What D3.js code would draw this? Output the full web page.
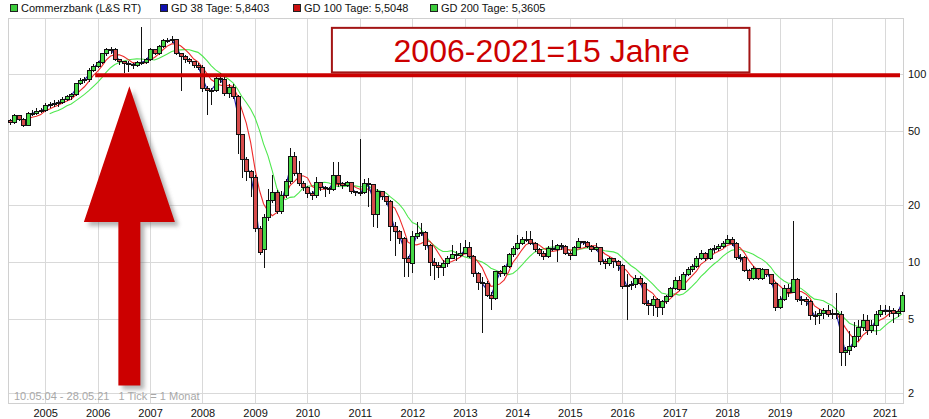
<!DOCTYPE html>
<html><head><meta charset="utf-8">
<script src="https://cdn.jsdelivr.net/npm/d3@7"></script>
<style>
html,body{margin:0;padding:0;background:#fff;}
svg{display:block;font-family:"Liberation Sans",Arial,sans-serif;}
</style></head><body>
<svg id="chart" width="929" height="419"></svg>
<script>
// ---------- DATA (monthly candles, May 2004 .. May 2021) ----------
const firstMonth = {year: 2004, month: 4}; // May 2004 (0-based month)
const opens = [56.5,55.5,59.8,57.6,53.5,61.6,62.0,63.3,63.8,67.6,69.2,70.0,70.5,73.6,75.5,77.4,89.0,92.4,93.5,105.0,
110.3,115.8,127.8,134.2,135.0,119.4,116.5,114.4,113.0,111.6,
115.8,115.0,119.4,134.2,127.8,140.9,150.8,150.0,153.5,128.5,
124.0,119.4,117.0,111.6,108.2,84.0,82.0,81.5,95.0,94.0,
79.2,85.2,76.0,47.4,35.2,30.2,28.3,15.0,11.6,17.3,
21.2,23.3,18.5,22.7,26.8,36.3,29.6,26.1,25.0,23.2,
22.5,26.4,25.0,24.7,24.3,29.0,26.0,25.4,26.4,23.6,
23.3,23.3,26.0,25.7,17.8,23.6,22.3,21.0,15.4,14.5,
13.4,10.5,9.84,13.7,14.2,14.4,12.3,9.95,9.6,9.4,
9.8,10.5,11.0,10.8,11.1,12.0,10.67,8.64,7.76,7.64,
6.67,6.41,8.88,8.64,9.44,10.9,11.83,12.6,13.1,13.25,
12.6,11.6,11.1,10.67,11.8,11.7,12.2,12.06,11.1,10.8,
11.9,12.8,12.7,12.06,11.6,11.9,10.0,9.8,10.4,10.0,
9.6,7.45,7.5,7.55,8.2,7.7,6.0,5.9,6.28,5.73,
6.17,6.55,7.2,7.95,7.18,8.53,9.07,9.44,10.46,11.1,
10.46,11.6,11.8,12.06,12.6,13.2,12.6,10.6,10.6,8.98,
8.2,9.26,8.2,9.07,8.53,7.7,5.73,6.34,7.2,6.9,
8.1,6.28,6.34,6.2,5.17,5.2,5.3,5.55,5.23,5.3,
5.23,3.3,3.4,3.55,4.0,4.5,4.9,4.32,4.6,5.23,
5.55,5.55,5.49,5.3,5.45];
const highs = [57.5,61.3,60.5,58.5,63.0,64.0,66.0,66.0,70.0,71.0,72.5,73.0,75.5,77.0,79.0,90.0,95.0,96.0,107.0,113.0,
118,130,137,139,138,120,118,117,114,118,
178,121,137,136,142,153,156,159.6,154,130,
126,121,118,114,112,86,84,98,101,96,
88,88,77,48,36,31,29,15.5,18,24.5,
29,24.2,24,27.5,40.3,38.5,34.5,27,25.5,24,
28.2,26.8,25.5,25.2,34,34,26.6,27,26.6,24,
45.2,27.5,28,26,24.5,24,22.5,21.3,16.3,14.8,
13.5,10.8,14.6,16.4,16.1,14.6,12.5,10.5,10.0,10.2,
10.8,12.3,11.4,12.6,13.1,12.8,10.9,8.8,8.3,7.9,
6.9,9.0,9.1,9.6,11.2,12.2,13.9,13.5,14.6,14.6,
12.8,11.8,11.5,12.1,13.1,12.5,12.6,12.3,11.4,12.2,
13.4,13.0,12.9,12.3,12.6,12.0,10.4,10.6,10.5,10.2,
9.8,8.6,7.9,8.5,8.4,7.8,6.3,6.6,6.4,6.3,
6.7,7.4,8.3,8.4,8.8,9.4,9.8,10.7,11.6,11.3,
11.9,12.3,12.4,12.9,14.0,13.6,12.8,11.0,10.7,9.2,
9.5,9.3,9.3,9.2,8.6,7.8,6.6,7.5,7.6,16.6,
8.2,6.6,6.5,6.3,5.5,5.6,5.7,5.9,5.6,6.8,
5.5,3.55,4.3,4.8,4.9,5.3,5.2,4.9,5.5,5.9,
5.9,5.8,5.7,5.6,6.9];
const lows = [53.5,54.2,56.0,52.0,53.0,60.0,60.5,62.0,63.0,66.0,67.0,67.0,69.0,72.0,73.0,76.0,87.0,90.0,91.0,103.0,
108,113,124,128,117,112,101,103,106,109,
112,113,117,126,126,138,146,147,126,81.2,
115,113,107,105,80,60.5,68.4,80,90,76,
75,74,37.5,28,27,22.3,14.5,10.9,9.3,16.5,
20.5,18,18,22,26,28.5,25.5,24,22,21.5,
22,24,22.3,23,24,25,24.5,25,23,22.5,
22.5,23,19.5,15.4,15.2,21.5,20,12.9,10.7,12.5,
8.3,8.3,8.7,13.3,13.8,11.6,8.4,8.0,8.2,8.4,
9.4,10.4,10.1,10.6,11.0,10.5,8.3,7.1,4.2,6.5,
5.55,6.3,8.3,8.4,9.3,10.6,11.6,12.3,12.8,12.3,
11.3,10.8,10.2,10.5,11.4,10.0,11.6,10.9,10.3,10.7,
11.8,12.3,11.8,11.3,11.4,9.6,9.2,9.5,9.3,9.0,
7.2,4.9,7.1,7.3,7.5,5.9,5.2,5.15,5.1,5.25,
6.0,6.5,7.1,7.0,7.1,8.4,8.9,9.3,10.2,10.1,
10.3,11.2,11.5,11.8,12.4,12.2,10.3,10.0,8.8,7.9,
8.0,8.0,8.0,8.3,7.5,5.5,5.6,6.2,6.5,6.8,
6.1,5.9,5.8,4.9,4.65,4.7,5.0,5.1,5.0,5.0,
2.8,2.8,3.2,3.5,3.8,4.3,4.1,4.2,4.1,5.1,
5.2,5.1,4.75,5.1,5.4];
const closes = [55.5,59.8,57.6,53.5,61.6,62.0,63.3,63.8,67.6,69.2,70.0,70.5,73.6,75.5,77.4,89.0,92.4,93.5,105.0,110.3,
115.8,127.8,134.2,135.0,119.4,116.5,114.4,113.0,111.6,115.8,
115.0,119.4,134.2,127.8,140.9,150.8,150.0,153.5,128.5,124.0,
119.4,117.0,111.6,108.2,84.0,82.0,81.5,95.0,94.0,79.2,
85.2,76.0,47.4,35.2,30.2,28.3,15.0,11.3,17.3,21.2,
23.3,18.5,22.7,26.8,36.3,29.6,26.1,25.0,23.2,22.5,
26.4,25.0,24.7,24.3,29.0,26.0,25.4,26.4,23.6,23.3,
23.3,26.0,25.7,17.8,23.6,22.3,21.0,15.4,14.5,13.4,
10.5,9.9,13.7,14.2,14.4,12.3,9.95,9.6,9.4,9.8,
10.5,11.0,10.8,11.1,12.0,10.67,8.64,7.76,7.64,6.67,
6.41,8.88,8.64,9.44,10.9,11.83,12.6,13.1,13.25,12.6,
11.6,11.1,10.67,11.8,11.7,12.2,12.06,11.1,10.8,11.9,
12.8,12.7,12.06,11.6,11.9,10.0,9.8,10.4,10.0,9.6,
7.45,7.5,7.55,8.2,7.7,6.0,5.9,6.28,5.73,6.17,
6.55,7.2,7.95,7.18,8.53,9.07,9.44,10.46,11.1,10.46,
11.6,11.8,12.06,12.6,13.2,12.6,10.6,10.6,8.98,8.2,
9.26,8.2,9.07,8.53,7.7,5.73,6.34,7.2,6.9,8.1,
6.28,6.34,6.2,5.17,5.2,5.3,5.55,5.23,5.3,5.23,
3.3,3.4,3.55,4.0,4.5,4.9,4.32,4.6,5.23,5.55,
5.55,5.49,5.3,5.45,6.67];

const priceTicks = [2, 5, 10, 20, 50, 100];
const yearTicks = [2005,2006,2007,2008,2009,2010,2011,2012,2013,2014,2015,2016,2017,2018,2019,2020,2021];
const legendLabels = ["Commerzbank (L&S RT)", "GD 38 Tage: 5,8403", "GD 100 Tage: 5,5048", "GD 200 Tage: 5,3605"];
const maMonths = [2, 5, 10];              // ~38, ~100, ~200 trading days on a monthly chart
const footerText = "10.05.04 - 28.05.21   1 Tick = 1 Monat";
const boxText = "2006-2021=15 Jahre";
const levelPrice = 98.4;                  // horizontal red line
const levelStart = new Date(2005, 11, 15);
const arrowDate = new Date(2006, 7, 10);
const arrowTip = 86, arrowBase = 16.3, arrowFoot = 2.2;
const boxFrom = new Date(2010, 5, 20), boxTo = new Date(2018, 5, 5);
const boxTop = 176, boxBottom = 102;

// ---------- LAYOUT ----------
const plot = {left: 8, right: 903, top: 18, bottom: 403};
const svg = d3.select("#chart");

const dates = closes.map((_, i) => new Date(firstMonth.year, firstMonth.month + i, 1));
const x = d3.scaleTime()
  .domain([new Date(2004, 3, 17), new Date(2021, 4, 9)])
  .range([plot.left, plot.right]);
const y = d3.scaleLog()
  .domain([1.778, 198.6])
  .range([plot.bottom, plot.top]);

// grid
const grid = svg.append("g");
grid.selectAll("line.v").data(yearTicks).enter().append("line")
  .attr("x1", d => Math.round(x(new Date(d, 0, 1))) + 0.5)
  .attr("x2", d => Math.round(x(new Date(d, 0, 1))) + 0.5)
  .attr("y1", plot.top).attr("y2", plot.bottom)
  .attr("stroke", "#d9d9d9").attr("stroke-width", 1);
grid.selectAll("line.h").data(priceTicks).enter().append("line")
  .attr("x1", plot.left).attr("x2", plot.right)
  .attr("y1", d => Math.round(y(d)) + 0.5).attr("y2", d => Math.round(y(d)) + 0.5)
  .attr("stroke", "#d9d9d9").attr("stroke-width", 1);
svg.append("rect")
  .attr("x", plot.left + 0.5).attr("y", plot.top + 0.5)
  .attr("width", plot.right - plot.left).attr("height", plot.bottom - plot.top)
  .attr("fill", "none").attr("stroke", "#d0d0d0");

// moving averages
function sma(arr, n) {
  return arr.map((_, i) => i < n - 1 ? null : d3.mean(arr.slice(i - n + 1, i + 1)));
}
const maColors = ["#1a1aa8", "#ee2a2a", "#4fe84f"];
const lineGen = d3.line().defined(d => d[1] != null).x(d => x(d[0])).y(d => y(d[1]));
[2, 1, 0].forEach(k => {
  const vals = sma(closes, maMonths[k]);
  svg.append("path")
    .datum(dates.map((d, i) => [d, vals[i]]))
    .attr("d", lineGen)
    .attr("fill", "none").attr("stroke", maColors[k]).attr("stroke-width", 1.1);
});

// candles
const candles = dates.map((d, i) => ({d, o: opens[i], h: highs[i], l: lows[i], c: closes[i]}));
const cg = svg.append("g").attr("shape-rendering", "crispEdges");
cg.selectAll("line.w").data(candles).enter().append("line")
  .attr("x1", d => Math.round(x(d.d)) + 0.5).attr("x2", d => Math.round(x(d.d)) + 0.5)
  .attr("y1", d => y(d.h)).attr("y2", d => y(d.l))
  .attr("stroke", "#111").attr("stroke-width", 1);
cg.selectAll("rect.b").data(candles).enter().append("rect")
  .attr("x", d => Math.round(x(d.d)) - 1.5)
  .attr("y", d => Math.min(y(d.o), y(d.c)))
  .attr("width", 3.5)
  .attr("height", d => Math.max(1, Math.abs(y(d.o) - y(d.c))))
  .attr("fill", d => d.c >= d.o ? "#45d845" : "#d64b4b")
  .attr("stroke", "#111").attr("stroke-width", 1);

// ---------- annotations ----------
const defs = svg.append("defs");
const f = defs.append("filter").attr("id", "sh").attr("x", "-20%").attr("y", "-20%").attr("width", "140%").attr("height", "140%");
f.append("feGaussianBlur").attr("stdDeviation", 2.2);

svg.append("line")
  .attr("x1", x(levelStart)).attr("x2", plot.right - 3)
  .attr("y1", y(levelPrice)).attr("y2", y(levelPrice))
  .attr("stroke", "#cc0000").attr("stroke-width", 4);

const ax = x(arrowDate);
const arrowPts = [[ax, y(arrowTip)], [ax + 45.5, y(arrowBase)], [ax + 11, y(arrowBase)], [ax + 11, y(arrowFoot)],
  [ax - 11, y(arrowFoot)], [ax - 11, y(arrowBase)], [ax - 45.5, y(arrowBase)]];
svg.append("polygon")
  .attr("points", arrowPts.map(p => [p[0] + 4, p[1] + 4].join(",")).join(" "))
  .attr("fill", "#777").attr("opacity", 0.55).attr("filter", "url(#sh)");
svg.append("polygon")
  .attr("points", arrowPts.map(p => p.join(",")).join(" "))
  .attr("fill", "#cc0000");

const bx0 = x(boxFrom), bx1 = x(boxTo), by0 = y(boxTop), by1 = y(boxBottom);
svg.append("rect").attr("x", bx0).attr("y", by0).attr("width", bx1 - bx0).attr("height", by1 - by0)
  .attr("fill", "#fff").attr("stroke", "#a31515").attr("stroke-width", 2);
svg.append("text").attr("x", (bx0 + bx1) / 2 + 1).attr("y", by1 - 10)
  .attr("text-anchor", "middle").attr("font-size", 32).attr("fill", "#cc0000")
  .text(boxText);

// ---------- axes ----------
const xAxis = d3.axisBottom(x).tickValues(yearTicks.map(yr => new Date(yr, 0, 1)))
  .tickFormat(d3.timeFormat("%Y")).tickSize(0).tickPadding(6);
const gx = svg.append("g").attr("transform", `translate(0,${plot.bottom})`).call(xAxis);
gx.select(".domain").remove();
gx.selectAll("text").attr("font-size", 11).attr("fill", "#111").attr("font-family", "Liberation Sans, Arial, sans-serif");

const yAxis = d3.axisRight(y).tickValues(priceTicks).tickFormat(d3.format("d")).tickSize(0).tickPadding(5);
const gy = svg.append("g").attr("transform", `translate(${plot.right},0)`).call(yAxis);
gy.select(".domain").remove();
gy.selectAll("text").attr("font-size", 11).attr("fill", "#111").attr("font-family", "Liberation Sans, Arial, sans-serif");

svg.append("text").attr("x", 14).attr("y", 400).attr("font-size", 11).attr("fill", "#a8a8a8")
  .attr("xml:space", "preserve").style("white-space", "pre").text(footerText);

// ---------- legend ----------
const legendColors = ["#3dcc3d", "#1010b0", "#cc1111", "#3dcc3d"];
const legendX = [10, 160, 293, 430];
const lg = svg.append("g");
legendLabels.forEach((t, i) => {
  lg.append("rect").attr("x", legendX[i] + 0.5).attr("y", 4.5).attr("width", 7).attr("height", 7)
    .attr("fill", legendColors[i]).attr("stroke", "#222").attr("stroke-width", 1);
  lg.append("text").attr("x", legendX[i] + 11).attr("y", 12).attr("font-size", 11).attr("fill", "#111").text(t);
});
</script>
</body></html>
